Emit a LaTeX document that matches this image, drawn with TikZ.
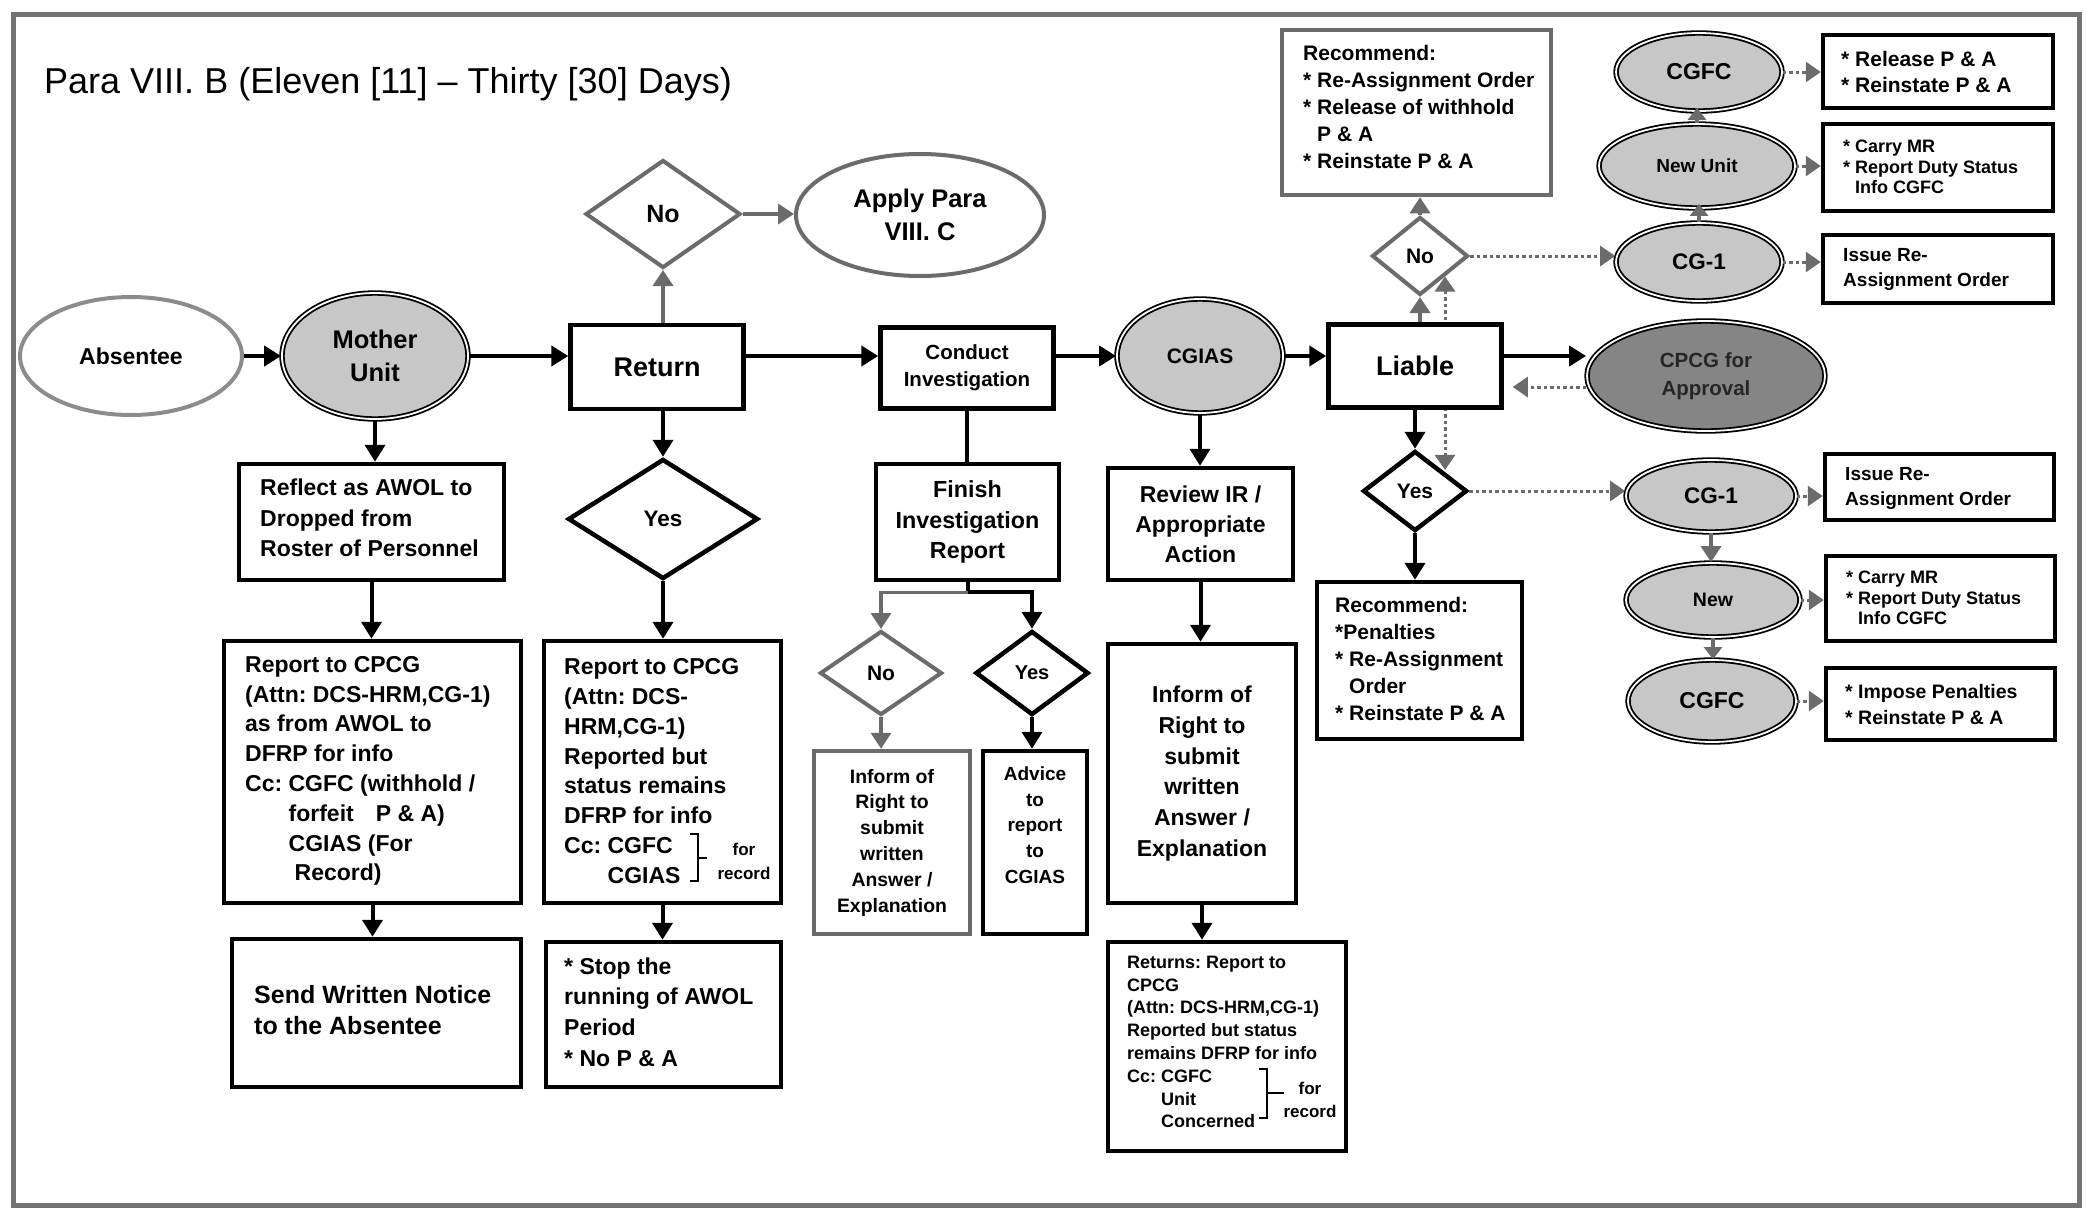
\documentclass[tikz,border=0pt]{standalone}
\usepackage{fontspec}
\setmainfont{Liberation Sans}
\usetikzlibrary{shapes.geometric,arrows.meta,calc}
\pgfdeclarelayer{behind}
\pgfsetlayers{behind,main}

\colorlet{edgegray}{black!58}
\colorlet{shadegray}{black!22}
\colorlet{darkshade}{black!48}

\begin{document}
\frenchspacing
\begin{tikzpicture}[x=1pt,y=-1pt,
  fs/.style 2 args={font=\fontsize{#1}{#2}\selectfont\bfseries},
  wh/.style 2 args={minimum width=#1,minimum height=#2},
  base/.style={inner sep=0,align=center},
  blk/.style={base,rectangle,draw=black,line width=4.5,fill=white},
  gry/.style={base,rectangle,draw=edgegray,line width=4.5,fill=white},
  oval/.style={base,ellipse,draw=black,line width=1.8,double=white,double distance=1.8,fill=shadegray},
  plainoval/.style={base,ellipse,draw=edgegray,line width=4,fill=white},
  bdia/.style={base,diamond,draw=black,line width=4.5,fill=white},
  gdia/.style={base,diamond,draw=edgegray,line width=4,fill=white},
  ltxt/.style={inner sep=0,anchor=west,align=left},
  arr/.style={draw=black,line width=4,-{Triangle[width=20pt,length=17pt]}},
  joinline/.style={draw=black,line width=4},
  garr/.style={color=edgegray,line width=3.5,-{Triangle[width=20pt,length=16pt]}},
  garrs/.style={color=edgegray,line width=3.5,-{Triangle[width=18pt,length=12pt]}},
  darr/.style={color=edgegray,line width=3,dash pattern=on 3.5pt off 3pt,-{Triangle[width=20pt,length=15pt]}},
]

% page and frame
\begin{pgfonlayer}{behind}
\fill[white] (0,0) rectangle (2087,1210);
\draw[black!55,line width=5] (13,14) rectangle (2079,1205);
\end{pgfonlayer}

\node[anchor=west,inner sep=0,font=\fontsize{36}{43}\selectfont] (title) at (44,84)
  {Para VIII. B (Eleven [11] – Thirty [30] Days)};

% main row
\node[base,ellipse,draw=black!45,line width=4,fill=white,wh={222}{118},fs={23}{30}] (absentee) at (131,356) {Absentee};
\node[oval,wh={186}{126},fs={25.5}{33}] (mother) at (375,356) {Mother\\Unit};
\node[blk,wh={173}{84},fs={27}{33}] (ret) at (657,367) {Return};
\node[gdia,wh={155}{108},fs={25}{30}] (noT) at (663,214) {No};
\node[plainoval,wh={248}{122},fs={25.5}{33}] (apply) at (920,215) {Apply Para\\VIII. C};
\node[blk,wh={173}{81},fs={20.5}{26.6}] (conduct) at (967,368) {Conduct\\Investigation};
\node[oval,wh={166}{114},fs={21}{26}] (cgias) at (1200,356) {CGIAS};
\node[blk,wh={173}{83},fs={27}{33}] (liable) at (1415,366) {Liable};
\node[oval,fill=darkshade,wh={238}{110},fs={20.5}{28},text=black!85] (cpcg) at (1706,376) {CPCG for\\Approval};

% upper right cluster
\node[gry,wh={269}{165}] (recT) at (1416.5,112.5) {};
\node[ltxt,fs={21}{27}] (recTt) at (1303,107)
  {Recommend:\\* Re-Assignment Order\\* Release of withhold\\\phantom{* }P \& A\\* Reinstate P \& A};
\node[gdia,wh={96}{78},fs={21}{26}] (noR) at (1420,256) {No};
\node[oval,wh={166}{78},fs={23}{28}] (cgfcT) at (1699,72) {CGFC};
\node[oval,wh={196}{84},fs={19}{24}] (newT) at (1697,166) {New Unit};
\node[oval,wh={166}{78},fs={22.5}{28}] (cg1T) at (1699,262) {CG-1};
\node[blk,wh={230}{73}] (relT) at (1938,71.5) {};
\node[ltxt,fs={21}{26.6}] (relTt) at (1841,72) {* Release P \& A\\* Reinstate P \& A};
\node[blk,wh={230}{87}] (carryT) at (1938,167.5) {};
\node[ltxt,fs={18}{20.6}] (carryTt) at (1843,167) {* Carry MR\\* Report Duty Status\\\phantom{* }Info CGFC};
\node[blk,wh={230}{68}] (issueT) at (1938,269) {};
\node[ltxt,fs={19}{25}] (issueTt) at (1843,269) {Issue Re-\\Assignment Order};

% lower right cluster
\node[bdia,wh={104}{80},fs={21}{26}] (yesR) at (1415,491) {Yes};
\node[blk,wh={205}{157}] (recB) at (1419.5,660.5) {};
\node[ltxt,fs={21}{27}] (recBt) at (1335,659)
  {Recommend:\\*Penalties\\* Re-Assignment\\\phantom{* }Order\\* Reinstate P \& A};
\node[oval,wh={170}{72},fs={22.5}{28}] (cg1B) at (1711,496) {CG-1};
\node[oval,wh={174}{74},fs={19.5}{24}] (newB) at (1713,600) {New};
\node[oval,wh={168}{82},fs={23}{28}] (cgfcB) at (1712,701) {CGFC};
\node[blk,wh={229}{66}] (issueB) at (1939.5,487) {};
\node[ltxt,fs={19}{25}] (issueBt) at (1845,488) {Issue Re-\\Assignment Order};
\node[blk,wh={229}{85}] (carryB) at (1940.5,598.5) {};
\node[ltxt,fs={18}{20.6}] (carryBt) at (1846,598) {* Carry MR\\* Report Duty Status\\\phantom{* }Info CGFC};
\node[blk,wh={229}{72}] (imposeB) at (1940.5,704) {};
\node[ltxt,fs={19.5}{26}] (imposeBt) at (1845,705) {* Impose Penalties\\* Reinstate P \& A};

% left column
\node[blk,wh={265}{116}] (reflect) at (371.5,522) {};
\node[ltxt,fs={23}{30.6}] (reflectt) at (260,518) {Reflect as AWOL to\\Dropped from\\Roster of Personnel};
\node[blk,wh={297}{262}] (rep1) at (372.5,772) {};
\node[ltxt,fs={23}{29.8}] (rep1t) at (245,771)
  {Report to CPCG\\(Attn: DCS-HRM,CG-1)\\as from AWOL to\\DFRP for info\\Cc: CGFC (withhold /\\
   \phantom{Cc: }forfeit\hspace{22pt}P \& A)\\\phantom{Cc: }CGIAS (For\\\phantom{Cc: }\hspace{6pt}Record)};
\node[blk,wh={289}{148}] (send) at (376.5,1013) {};
\node[ltxt,fs={25}{31}] (sendt) at (254,1010) {Send Written Notice\\to the Absentee};

% return column
\node[bdia,wh={190}{120},fs={22.5}{28}] (yesL) at (663,519) {Yes};
\node[blk,wh={237}{262}] (rep2) at (662.5,772) {};
\node[ltxt,fs={23}{29.8}] (rep2t) at (564,771)
  {Report to CPCG\\(Attn: DCS-\\HRM,CG-1)\\Reported but\\status remains\\DFRP for info\\Cc: CGFC\\\phantom{Cc: }CGIAS};
\node[base,fs={17}{24}] (rec2) at (744,861) {for\\record};
\node[blk,wh={235}{145}] (stop) at (663.5,1014.5) {};
\node[ltxt,fs={23}{30.6}] (stopt) at (564,1012) {* Stop the\\running of AWOL\\Period\\* No P \& A};

% investigation column
\node[blk,wh={183}{116},fs={23.3}{30.6}] (finish) at (967.5,522) {Finish\\Investigation\\Report};
\node[gdia,wh={122}{84},fs={21}{26}] (noS) at (881,673) {No};
\node[bdia,wh={113}{84},fs={20}{26}] (yesS) at (1032,673) {Yes};
\node[gry,wh={156}{183},fs={19.4}{25.8}] (infoS) at (892,842.5) {Inform of\\Right to\\submit\\written\\Answer /\\Explanation};
\node[blk,wh={104}{183}] (advice) at (1035,842.5) {};
\node[base,fs={19}{25.7}] (advicet) at (1035,825) {Advice\\to\\report\\to\\CGIAS};

% CGIAS column
\node[blk,wh={185}{112},fs={23}{30}] (review) at (1200.5,524) {Review IR /\\Appropriate\\Action};
\node[blk,wh={188}{259},fs={23}{30.9}] (infoB) at (1202,773.5) {Inform of\\Right to\\submit\\written\\Answer /\\Explanation};
\node[blk,wh={238}{209}] (returns) at (1227,1046.5) {};
\node[ltxt,fs={18}{22.8}] (returnst) at (1127,1042)
  {Returns: Report to\\CPCG\\(Attn: DCS-HRM,CG-1)\\Reported but status\\remains DFRP for info\\Cc: CGFC\\\phantom{Cc: }Unit\\\phantom{Cc: }Concerned};
\node[base,fs={17}{23}] (rec3) at (1310,1100) {for\\record};

% brackets grouping the copy furnished lines
\draw[line width=2] (690,834) -- (698,834) -- (698,881) -- (690,881) (698,858) -- (707,858);
\draw[line width=2] (1259,1069) -- (1267,1069) -- (1267,1118) -- (1259,1118) (1267,1093) -- (1284,1093);

% main flow connectors
\draw[arr] (absentee.east) -- (mother.west);
\draw[arr] (mother.east) -- (mother.east -| ret.west);
\draw[arr] (ret.east |- mother.east) -- (conduct.west |- mother.east);
\draw[arr] (conduct.east |- cgias.west) -- (cgias.west);
\draw[arr] (cgias.east) -- (cgias.east -| liable.west);
\draw[arr] (liable.east |- cgias.east) -- (cpcg.west |- cgias.east);

% downward flows
\draw[arr] (mother.south) -- (mother.south |- reflect.north);
\draw[arr] (reflect.south) -- (reflect.south |- rep1.north);
\draw[arr] (rep1.south) -- (rep1.south |- send.north);
\draw[arr] (yesL.north |- ret.south) -- (yesL.north);
\draw[arr] (yesL.south) -- (yesL.south |- rep2.north);
\draw[arr] (rep2.south) -- (rep2.south |- stop.north);
\draw[joinline] (conduct.south) -- (conduct.south |- finish.north);
\draw[joinline] (finish.south) -- ++(0,10) coordinate (fork);
\draw[arr] (fork) -| (yesS.north);
\draw[garr] (fork) -| (noS.north);
\draw[garr] (noS.south) -- (noS.south |- infoS.north);
\draw[arr] (yesS.south) -- (yesS.south |- advice.north);
\draw[arr] (cgias.south) -- (cgias.south |- review.north);
\draw[arr] (review.south) -- (review.south |- infoB.north);
\draw[arr] (infoB.south) -- (infoB.south |- returns.north);
\draw[arr] (liable.south) -- (liable.south |- yesR.north);
\draw[arr] (yesR.south) -- (yesR.south |- recB.north);

% gray flows
\draw[garr] (noT.south |- ret.north) -- (noT.south);
\draw[garr] (noT.east) -- (noT.east -| apply.west);
\draw[garr] (noR.south |- liable.north) -- (noR.south);
\draw[garr] (noR.north) -- (noR.north |- recT.south);
\draw[garrs,shorten >=-5pt] (cg1T.north) -- (cg1T.north |- newT.south);
\draw[garrs,shorten >=-4pt] (newT.north) -- (newT.north |- cgfcT.south);
\draw[garr] (cg1B.south) -- (cg1B.south |- newB.north);
\draw[garrs] (newB.south) -- (newB.south |- cgfcB.north);

% dotted flows
\draw[darr] (noR.east) -- (noR.east -| cg1T.west);
\draw[darr] (yesR.east) -- (yesR.east -| cg1B.west);
\coordinate (backY) at ([yshift=-11pt]cpcg.west);
\draw[darr,shorten >=9pt] (backY) -- (backY -| liable.east);
\draw[darr] (cgfcT.east) -- (cgfcT.east -| relT.west);
\draw[darr] (newT.east) -- (newT.east -| carryT.west);
\draw[darr] (cg1T.east) -- (cg1T.east -| issueT.west);
\draw[darr] (cg1B.east) -- (cg1B.east -| issueB.west);
\draw[darr] (newB.east) -- (newB.east -| carryB.west);
\draw[darr] (cgfcB.east) -- (cgfcB.east -| imposeB.west);
\begin{pgfonlayer}{behind}
\draw[darr,{Triangle[width=20pt,length=15pt]}-{Triangle[width=20pt,length=15pt]}]
  (noR.south east) -- (noR.south east |- yesR.north east);
\end{pgfonlayer}

\useasboundingbox (0,0) rectangle (2087,1210);
\end{tikzpicture}
\end{document}
